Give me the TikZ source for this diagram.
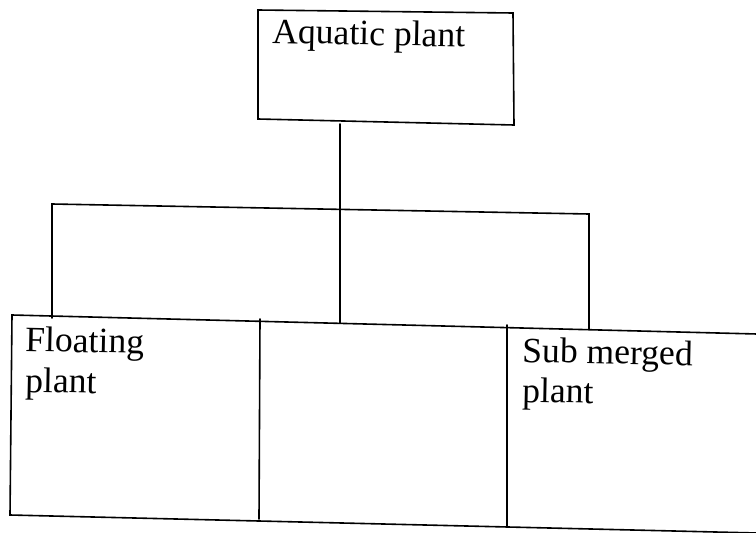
\documentclass[tikz,border=0pt]{standalone}
\usepackage{fontspec}
\setmainfont{Liberation Serif}
\begin{document}
\begin{tikzpicture}[x=1pt,y=-1pt,
  ln/.style={line width=1.6pt, line cap=round, line join=miter},
  lbl/.style={font=\fontsize{35.6}{41}\selectfont, anchor=base west, inner sep=0pt, rotate=-1.2}]
\useasboundingbox (0,0) rectangle (756,533);
% top box
\coordinate (tTL) at (258,10);
\coordinate (tTR) at (513,13);
\coordinate (tBR) at (514,125);
\coordinate (tBL) at (258,119);
\draw[ln] (tTL) -- (tTR) -- (tBR) -- (tBL) -- cycle;
\node[lbl] (aq) at (272,43) {Aquatic plant};
% bottom row
\coordinate (bTL) at (12,315);
\coordinate (bTR) at (757,334);
\coordinate (bBL) at (10,515);
\coordinate (bBR) at (757,533);
\coordinate (d1T) at (260,319);
\coordinate (d1B) at (259,519);
\coordinate (d2T) at (507,325);
\coordinate (d2B) at (507,526);
\draw[ln] (bTR) -- (bTL) -- (bBL) -- (bBR);
\draw[ln] (d1T) -- (d1B);
\draw[ln] (d2T) -- (d2B);
\node[lbl] (fl1) at (25,351) {Floating};
\node[lbl] (fl2) at (25,392) {plant};
\node[lbl] (sm1) at (522,362) {Sub merged};
\node[lbl] (sm2) at (522,402) {plant};
% connectors
\coordinate (cTop) at (340,124);
\coordinate (cBot) at (340,323);
\coordinate (bl) at (52,204);
\coordinate (br) at (589,214);
\coordinate (blB) at (52,318);
\coordinate (brB) at (589,329);
\draw[ln] (cTop) -- (cBot);
\draw[ln] (blB) -- (bl) -- (br) -- (brB);
\end{tikzpicture}
\end{document}
